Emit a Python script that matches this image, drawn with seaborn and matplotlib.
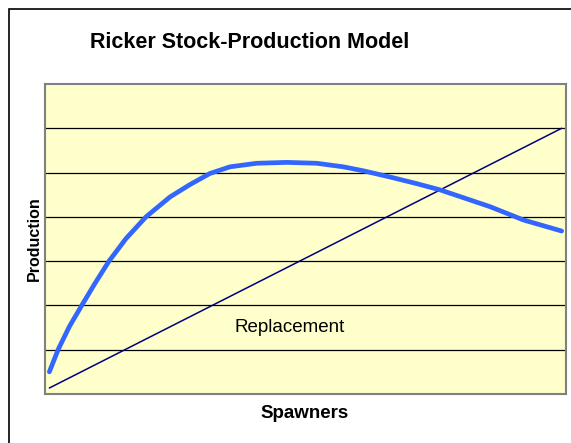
import numpy as np
import pandas as pd
import matplotlib
matplotlib.use("Agg")
import matplotlib.pyplot as plt
from matplotlib.patches import Rectangle
import seaborn as sns

# values
spawners = [0.050, 0.153, 0.280, 0.423, 0.576, 0.737, 0.933, 1.163, 1.440,
            1.670, 1.900, 2.131, 2.438, 2.784, 3.129, 3.435, 3.666, 3.973, 4.261,
            4.549, 4.837, 5.125, 5.509, 5.950]
production = [0.50, 1.01, 1.52, 2.00, 2.50, 3.00, 3.51, 4.00, 4.45,
              4.73, 4.98, 5.13, 5.21, 5.23, 5.21, 5.13, 5.04, 4.90, 4.76,
              4.61, 4.42, 4.23, 3.93, 3.68]
repl_x = [0.05, 5.95]
repl_y = [0.135, 6.0]
grid_levels = [1, 2, 3, 4, 5, 6]

df = pd.DataFrame({"Spawners": spawners, "Production": production})
rep = pd.DataFrame({"Spawners": repl_x, "Production": repl_y})

sns.set_style("white")
plt.rcParams["font.family"] = ["Liberation Sans", "DejaVu Sans"]
plt.rcParams["text.color"] = "black"

fig = plt.figure(figsize=(5.71, 4.43), dpi=100)
ax = fig.add_axes([45/571, 1 - 394/443, 521/571, 310/443])
ax.set_facecolor("#FFFFCC")

sns.lineplot(data=rep, x="Spawners", y="Production", ax=ax, color="#000080",
             lw=1.1, sort=False, estimator=None)
sns.lineplot(data=df, x="Spawners", y="Production", ax=ax, color="#3366FF",
             lw=3.4, sort=False, estimator=None, solid_capstyle="round",
             solid_joinstyle="round")

ax.set_xlim(0, 6)
ax.set_ylim(0, 7)
ax.set_yticks(grid_levels)
ax.set_xticks([])
ax.grid(axis="y", color="black", lw=0.9)
ax.set_axisbelow(True)
ax.tick_params(length=0, labelleft=False, labelbottom=False)
ax.set_xlabel("")
ax.set_ylabel("")
for s in ax.spines.values():
    s.set_color("#808080")
    s.set_linewidth(1.5)

ax.text(2.18, 1.51, "Replacement", fontsize=13.5, ha="left", va="center",
        color="black")

fig.text(250/571, 1 - 42/443, "Ricker Stock-Production Model", fontsize=15.5,
         fontweight="bold", ha="center", va="center", color="black")
fig.text(305/571, 1 - 414/443, "Spawners", fontsize=13.5, fontweight="bold",
         ha="center", va="center", color="black")
fig.text(34/571, 1 - 239/443, "Production", fontsize=11.5, fontweight="bold",
         ha="center", va="center", rotation=90, color="black")

fig.patches.append(Rectangle((9/571, -0.1), 2, 1.1 - 9/443, transform=fig.transFigure,
                             fill=False, edgecolor="black", lw=1.2))

fig.savefig("out.png", dpi=100)
